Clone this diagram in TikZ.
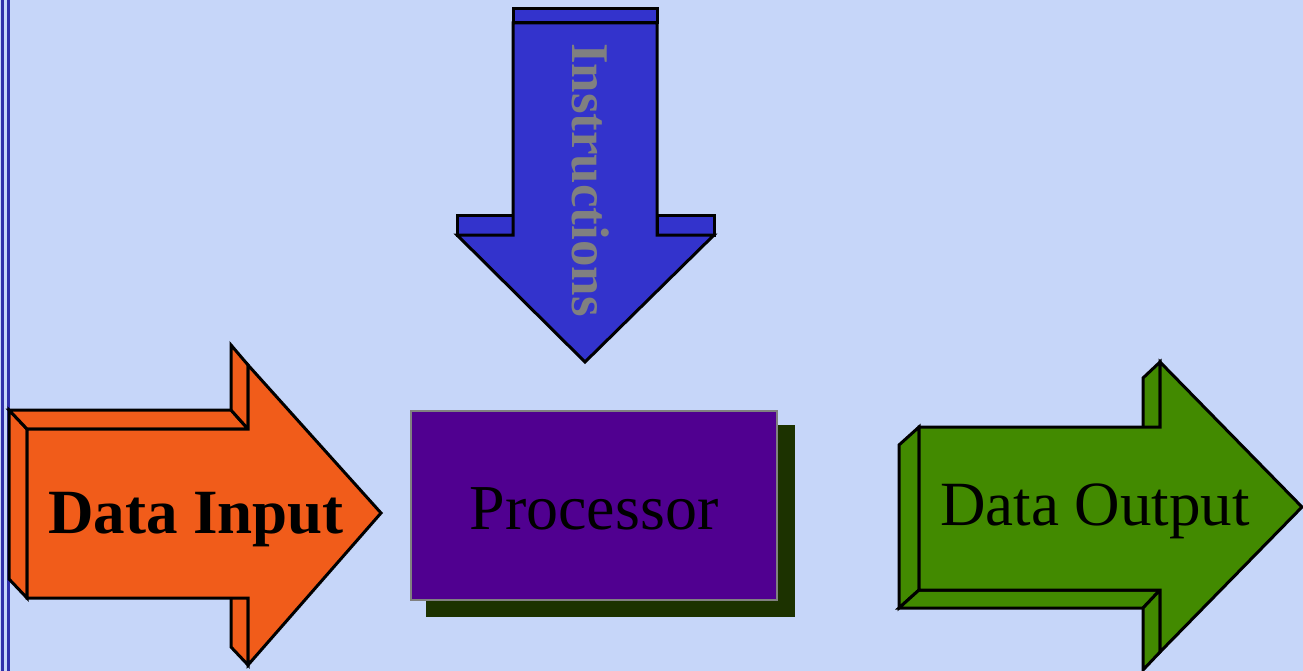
\documentclass[tikz,border=0pt]{standalone}
\usepackage{fontspec}
\setmainfont{Liberation Serif}
\definecolor{slidebg}{RGB}{198,214,249}
\definecolor{rulecol}{RGB}{48,48,170}
\definecolor{inorange}{RGB}{241,92,26}
\definecolor{outgreen}{RGB}{66,138,0}
\definecolor{insblue}{RGB}{51,51,204}
\definecolor{procpurple}{RGB}{80,0,144}
\definecolor{procshadow}{RGB}{28,50,0}
\definecolor{labelgray}{RGB}{128,128,128}
\tikzset{
  face/.style={draw=black, line width=3pt, line join=miter},
  biglabel/.style={inner sep=0pt, anchor=base, text=black}
}
\begin{document}
\begin{tikzpicture}[x=1pt,y=-1pt]
  % slide background and bounding box
  \fill[slidebg] (0,0) rectangle (1303,671);
  \useasboundingbox (0,0) rectangle (1303,671);
  % double rule on the left edge
  \fill[rulecol] (0.8,0) rectangle (3.6,671);
  \fill[rulecol] (6.8,0) rectangle (9.6,671);

  % ---- Data Input block arrow (3D, depth up-left) ----
  \begin{scope}[face/.append style={fill=inorange}]
    \path[face] (231,579) -- (248,598) -- (248,665) -- (231,647) -- cycle;
    \path[face] (9,410) -- (27,429) -- (27,598) -- (9,579) -- cycle;
    \path[face] (9,410) -- (231,410) -- (248,429) -- (27,429) -- cycle;
    \path[face] (231,345) -- (248,365) -- (248,429) -- (231,410) -- cycle;
    \path[face] (27,429) -- (248,429) -- (248,365) -- (381,513)
                -- (248,665) -- (248,598) -- (27,598) -- cycle;
  \end{scope}
  \node[biglabel, font=\bfseries\fontsize{63}{70}\selectfont] (datain) at (196,533) {Data Input};

  % ---- Instructions block arrow (pointing down) ----
  \begin{scope}[face/.append style={fill=insblue}]
    \path[face] (513,9) -- (657,9) -- (657,23) -- (513,23) -- cycle;
    \path[face] (457,215) -- (513,215) -- (513,235) -- (457,235) -- cycle;
    \path[face] (657,215) -- (714,215) -- (714,235) -- (657,235) -- cycle;
    \path[face] (513,23) -- (657,23) -- (657,235) -- (714,235)
                -- (585,362) -- (457,235) -- (513,235) -- cycle;
  \end{scope}
  \node[inner sep=0pt, anchor=base, rotate=-90, text=labelgray,
        font=\bfseries\fontsize{53}{60}\selectfont] (instr) at (572,180) {Instructions};

  % ---- Processor box with drop shadow ----
  \fill[procshadow] (426,425) rectangle (795,617);
  \node[draw=labelgray, line width=2.5pt, fill=procpurple, inner sep=0pt,
        minimum width=366pt, minimum height=189pt] (procbox) at (594,505.5) {};
  \node[biglabel, font=\fontsize{64}{70}\selectfont] (proc) at (594,529) {Processor};

  % ---- Data Output block arrow (3D, depth down-left) ----
  \begin{scope}[face/.append style={fill=outgreen}]
    \path[face] (1160,362) -- (1143,378) -- (1143,445) -- (1160,427) -- cycle;
    \path[face] (919,427) -- (899,445) -- (899,608) -- (919,590) -- cycle;
    \path[face] (899,608) -- (919,590) -- (1160,590) -- (1143,608) -- cycle;
    \path[face] (1143,608) -- (1160,590) -- (1160,652) -- (1143,670) -- cycle;
    \path[face] (919,427) -- (1160,427) -- (1160,362) -- (1302,507)
                -- (1160,652) -- (1160,590) -- (919,590) -- cycle;
  \end{scope}
  \node[biglabel, font=\fontsize{63}{70}\selectfont] (dataout) at (1095,525) {Data Output};
\end{tikzpicture}
\end{document}
